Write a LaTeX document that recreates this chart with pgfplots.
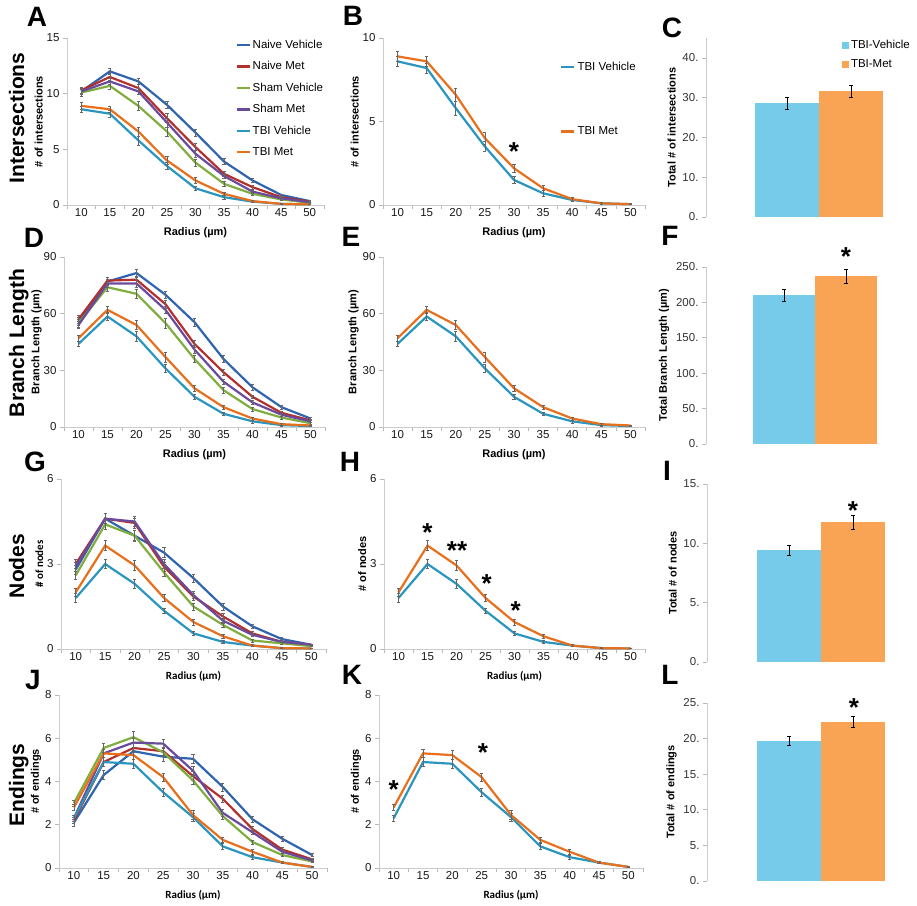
\documentclass[border=0pt]{standalone}
\usepackage{fontspec}
\setmainfont{Liberation Sans}
\newfontfamily\calib{Carlito}
\usepackage{pgfplots}
\usepackage{pgfplotstable}
\pgfplotsset{compat=1.18}

\definecolor{nv}{HTML}{2F64AE}
\definecolor{nm}{HTML}{B3302C}
\definecolor{sv}{HTML}{7FAE3E}
\definecolor{sm}{HTML}{6A4A9C}
\definecolor{tv}{HTML}{2A96BF}
\definecolor{tm}{HTML}{E86F1C}
\definecolor{barb}{HTML}{76CBEA}
\definecolor{baro}{HTML}{F9A455}

% intersections
\pgfplotstableread{
x nv nve nm nme sv sve sm sme tv tve tm tme
10 10.2 0.3 10.3 0.3 10.1 0.3 10.2 0.3 8.6 0.3 8.9 0.3
15 12.0 0.3 11.5 0.3 10.7 0.3 11.1 0.3 8.2 0.3 8.6 0.3
20 11.1 0.3 10.5 0.3 8.9 0.4 10.2 0.3 5.8 0.4 6.6 0.4
25 9.0 0.3 7.8 0.4 6.6 0.4 7.4 0.4 3.5 0.3 4.0 0.35
30 6.5 0.3 5.2 0.3 3.8 0.3 4.6 0.3 1.5 0.2 2.2 0.25
35 3.9 0.25 2.8 0.2 1.9 0.2 2.6 0.2 0.7 0.15 1.0 0.15
40 2.2 0.2 1.6 0.15 1.0 0.15 1.2 0.15 0.3 0.1 0.35 0.1
45 0.9 0.1 0.7 0.1 0.5 0.1 0.6 0.1 0.1 0.05 0.1 0.05
50 0.35 0.1 0.3 0.1 0.2 0.05 0.25 0.05 0.05 0.03 0.05 0.03
}\tabA
% branch length
\pgfplotstableread{
x nv nve nm nme sv sve sm sme tv tve tm tme
10 56 2 57 2 55 2 54 2 44 1.5 47 1.5
15 77 2 77.5 2 74 2 76 2 58.5 2 62 2
20 81.5 2 78 2 70.5 2.5 76 2 48 2.5 54 2.5
25 70 2 65 2 55 2.5 62 2 31 2 37 2.5
30 55.5 2 44 2 36 2 41 2 16 1.5 20.5 1.5
35 36 2 29 1.5 19.5 1.5 24 1.5 7 1 10.5 1
40 21 1.5 16 1 9.5 1 13 1 3 0.8 4.5 0.8
45 10.5 1 7.5 1 5 0.8 6.5 0.8 1 0.5 1.5 0.5
50 4.5 0.8 3.5 0.8 2 0.5 3 0.5 0.5 0.3 0.8 0.3
}\tabD
% nodes
\pgfplotstableread{
x nv nve nm nme sv sve sm sme tv tve tm tme
10 2.8 0.15 3.0 0.15 2.6 0.15 2.9 0.15 1.8 0.15 2.0 0.15
15 4.6 0.18 4.6 0.18 4.4 0.18 4.6 0.18 3.0 0.15 3.65 0.18
20 4.0 0.18 4.45 0.18 4.0 0.2 4.5 0.18 2.3 0.15 2.95 0.18
25 3.4 0.18 2.9 0.15 2.7 0.15 3.0 0.15 1.35 0.1 1.8 0.12
30 2.5 0.15 1.85 0.12 1.5 0.12 1.9 0.12 0.55 0.06 0.95 0.1
35 1.5 0.12 1.15 0.1 0.85 0.08 1.0 0.08 0.25 0.05 0.45 0.06
40 0.8 0.08 0.55 0.06 0.3 0.05 0.5 0.05 0.12 0.03 0.12 0.03
45 0.35 0.05 0.25 0.05 0.2 0.03 0.25 0.03 0.03 0.02 0.03 0.02
50 0.15 0.03 0.15 0.03 0.1 0.02 0.15 0.02 0.02 0.01 0.02 0.01
}\tabG
% endings
\pgfplotstableread{
x nv nve nm nme sv sve sm sme tv tve tm tme
10 2.1 0.15 2.2 0.15 3.0 0.15 2.3 0.15 2.3 0.15 2.8 0.15
15 4.3 0.2 4.9 0.2 5.55 0.2 5.3 0.2 4.9 0.2 5.3 0.2
20 5.4 0.2 5.55 0.2 6.05 0.25 5.8 0.2 4.82 0.2 5.22 0.2
25 5.15 0.2 5.4 0.2 5.35 0.2 5.75 0.2 3.5 0.2 4.2 0.2
30 5.05 0.2 4.25 0.2 4.05 0.2 4.5 0.2 2.35 0.2 2.45 0.2
35 3.75 0.18 3.2 0.15 2.4 0.15 2.55 0.15 1.0 0.12 1.3 0.1
40 2.25 0.15 1.8 0.12 1.2 0.1 1.65 0.1 0.5 0.1 0.75 0.1
45 1.35 0.1 0.85 0.1 0.6 0.08 0.75 0.08 0.25 0.05 0.25 0.05
50 0.6 0.08 0.4 0.06 0.3 0.05 0.35 0.05 0.05 0.02 0.05 0.02
}\tabJ

\pgfplotsset{
  linech/.style={
    scale only axis, clip=false, anchor=south west,
    xmin=7.5, xmax=52.5, ymin=0,
    axis x line*=bottom, axis y line*=left,
    axis line style={draw=gray!40, line width=0.9pt, -},
    tick align=outside,
    tick style={draw=gray!55, line width=0.7pt},
    major tick length=4pt,
    xtick={7.5,12.5,...,52.5}, xticklabels={},
    extra x ticks={10,15,...,50},
    extra x tick labels={10,15,20,25,30,35,40,45,50},
    extra x tick style={major tick length=0pt},
    ticklabel style={font=\fontsize{11.5}{11.5}\selectfont, text=black!90},
    /pgf/number format/assume math mode=true,
    label style={font=\bfseries\fontsize{11}{11}\selectfont},
    ylabel shift=-3pt,
    xlabel={Radius (µm)},
    /pgfplots/error bars/y dir=both,
    /pgfplots/error bars/y explicit,
    /pgfplots/error bars/error bar style={line width=0.6pt, black!60},
    /pgfplots/error bars/error mark options={rotate=90, mark size=1.6pt, line width=0.6pt, black!60},
    every axis plot/.append style={line width=2.2pt, mark=none},
    legend image code/.code={\draw[line width=2.2pt,#1] (0pt,0pt) -- (13pt,0pt);},
  },
  barch/.style={
    scale only axis, clip=false, anchor=south west,
    width=194pt, xmin=0, xmax=194, ymin=0,
    axis x line=none, axis y line*=left,
    axis line style={draw=gray!40, line width=0.9pt, -},
    tick align=outside,
    tick style={draw=gray!55, line width=0.7pt},
    major tick length=4pt,
    /pgf/number format/assume math mode=true,
    yticklabel={\pgfmathprintnumber[fixed,precision=0]{\tick}.},
    ticklabel style={font=\fontsize{11.5}{11.5}\selectfont, text=black!80},
    label style={font=\bfseries\fontsize{11}{11}\selectfont},
    /pgfplots/error bars/y dir=both,
    /pgfplots/error bars/y explicit,
    /pgfplots/error bars/error bar style={black, line width=0.6pt},
    /pgfplots/error bars/error mark options={rotate=90, mark size=1.8pt, black, line width=0.6pt},
  },
  bstyle/.style={ybar, bar width=64, bar shift=0pt, draw=none},
}

\newcommand{\sigstar}[1]{\node[inner sep=0pt, anchor=north, font=\bfseries\fontsize{26}{26}\selectfont] at (#1) {*};}

\begin{document}
\begin{tikzpicture}
\path[use as bounding box] (0pt,0pt) rectangle (917pt,905pt);

% ---------- A
\begin{axis}[linech, at={(67pt,700pt)}, width=257pt, height=167pt,
  ymax=15, ytick={0,5,10,15}, ylabel={\# of intersections},
  legend style={at={(0.655,1.0)}, anchor=north west, draw=none, fill=none,
    font=\fontsize{11.5}{11.5}\selectfont, row sep=7.6pt, inner sep=0pt},
  legend cell align=left]
\addplot[nv] table[x=x,y=nv,y error=nve]{\tabA};
\addplot[nm] table[x=x,y=nm,y error=nme]{\tabA};
\addplot[sv] table[x=x,y=sv,y error=sve]{\tabA};
\addplot[sm] table[x=x,y=sm,y error=sme]{\tabA};
\addplot[tv] table[x=x,y=tv,y error=tve]{\tabA};
\addplot[tm] table[x=x,y=tm,y error=tme]{\tabA};
\legend{Naive Vehicle,Naive Met,Sham Vehicle,Sham Met,TBI Vehicle,TBI Met}
\end{axis}

% ---------- B
\begin{axis}[linech, at={(383pt,700pt)}, width=262pt, height=167pt,
  ymax=10, ytick={0,5,10}, ylabel={\# of intersections},
  legend style={at={(0.676,0.87)}, anchor=north west, draw=none, fill=none,
    font=\fontsize{11.5}{11.5}\selectfont, row sep=51pt, inner sep=0pt},
  legend cell align=left]
\addplot[tv] table[x=x,y=tv,y error=tve]{\tabA};
\addplot[tm] table[x=x,y=tm,y error=tme]{\tabA};
\legend{TBI Vehicle,TBI Met}
\sigstar{axis cs:30,3.75}
\end{axis}

% ---------- C
\begin{axis}[barch, at={(706pt,688pt)}, height=179pt, ymax=45,
  ytick={0,10,20,30,40}, ylabel={Total \# of intersections},
  legend style={at={(0.70,1.0)}, anchor=north west, draw=none, fill=none,
    font=\fontsize{11.5}{11.5}\selectfont, row sep=5.5pt, inner sep=0pt},
  legend cell align=left]
\addplot[bstyle, fill=barb, legend image code/.code={\fill[barb] (0pt,-3.5pt) rectangle (7pt,3.5pt);}]
  coordinates {(81,28.6) +- (0,1.5)};
\addplot[bstyle, fill=baro, legend image code/.code={\fill[baro] (0pt,-3.5pt) rectangle (7pt,3.5pt);}]
  coordinates {(145,31.6) +- (0,1.4)};
\legend{TBI-Vehicle,TBI-Met}
\end{axis}

% ---------- D
\begin{axis}[linech, at={(64pt,478pt)}, width=261pt, height=170pt,
  ymax=90, ytick={0,30,60,90}, ylabel={Branch Length (µm)}, ylabel shift=-5pt]
\addplot[nv] table[x=x,y=nv,y error=nve]{\tabD};
\addplot[nm] table[x=x,y=nm,y error=nme]{\tabD};
\addplot[sv] table[x=x,y=sv,y error=sve]{\tabD};
\addplot[sm] table[x=x,y=sm,y error=sme]{\tabD};
\addplot[tv] table[x=x,y=tv,y error=tve]{\tabD};
\addplot[tm] table[x=x,y=tm,y error=tme]{\tabD};
\end{axis}

% ---------- E
\begin{axis}[linech, at={(383pt,478pt)}, width=262pt, height=170pt,
  ymax=90, ytick={0,30,60,90}, ylabel={Branch Length (µm)}]
\addplot[tv] table[x=x,y=tv,y error=tve]{\tabD};
\addplot[tm] table[x=x,y=tm,y error=tme]{\tabD};
\end{axis}

% ---------- F
\begin{axis}[barch, at={(706pt,461pt)}, height=177pt, ymax=250,
  ytick={0,50,100,150,200,250}, ylabel={Total Branch Length (µm)}]
\addplot[bstyle, fill=barb, bar width=62] coordinates {(78,210) +- (0,9)};
\addplot[bstyle, fill=baro, bar width=62] coordinates {(140,237) +- (0,10)};
\sigstar{axis cs:140,277}
\end{axis}

% ---------- G
\begin{axis}[linech, at={(61pt,256pt)}, width=265pt, height=170pt,
  ymax=6, ytick={0,3,6}, ylabel={\calib\bfseries \# of nodes},
  xlabel={\calib\bfseries Radius (µm)}]
\addplot[nv] table[x=x,y=nv,y error=nve]{\tabG};
\addplot[nm] table[x=x,y=nm,y error=nme]{\tabG};
\addplot[sv] table[x=x,y=sv,y error=sve]{\tabG};
\addplot[sm] table[x=x,y=sm,y error=sme]{\tabG};
\addplot[tv] table[x=x,y=tv,y error=tve]{\tabG};
\addplot[tm] table[x=x,y=tm,y error=tme]{\tabG};
\end{axis}

% ---------- H
\begin{axis}[linech, at={(384pt,256pt)}, width=261pt, height=170pt,
  ymax=6, ytick={0,3,6}, ylabel={\# of nodes},
  xlabel={\calib\bfseries Radius (µm)}]
\addplot[tv] table[x=x,y=tv,y error=tve]{\tabG};
\addplot[tm] table[x=x,y=tm,y error=tme]{\tabG};
\sigstar{axis cs:15,4.45}
\node[inner sep=0pt, anchor=north, font=\bfseries\fontsize{26}{26}\selectfont] at (axis cs:20.1,3.78) {**};
\sigstar{axis cs:25.2,2.65}
\sigstar{axis cs:30.2,1.69}
\end{axis}

% ---------- I
\begin{axis}[barch, at={(707pt,243pt)}, height=178pt, ymax=15,
  ytick={0,5,10,15}, ylabel={Total \# of nodes}]
\addplot[bstyle, fill=barb] coordinates {(82,9.4) +- (0,0.45)};
\addplot[bstyle, fill=baro] coordinates {(146,11.8) +- (0,0.6)};
\sigstar{axis cs:146,13.5}
\end{axis}

% ---------- J
\begin{axis}[linech, at={(59pt,37pt)}, width=268pt, height=173pt,
  ymax=8, ytick={0,2,4,6,8}, ylabel={\# of endings},
  xlabel={\calib\bfseries Radius (µm)}]
\addplot[nv] table[x=x,y=nv,y error=nve]{\tabJ};
\addplot[nm] table[x=x,y=nm,y error=nme]{\tabJ};
\addplot[sv] table[x=x,y=sv,y error=sve]{\tabJ};
\addplot[sm] table[x=x,y=sm,y error=sme]{\tabJ};
\addplot[tv] table[x=x,y=tv,y error=tve]{\tabJ};
\addplot[tm] table[x=x,y=tm,y error=tme]{\tabJ};
\end{axis}

% ---------- K
\begin{axis}[linech, at={(379pt,37pt)}, width=264pt, height=173pt,
  ymax=8, ytick={0,2,4,6,8}, ylabel={\# of endings},
  xlabel={\calib\bfseries Radius (µm)}]
\addplot[tv] table[x=x,y=tv,y error=tve]{\tabJ};
\addplot[tm] table[x=x,y=tm,y error=tme]{\tabJ};
\sigstar{axis cs:10,4.07}
\sigstar{axis cs:25.2,5.78}
\end{axis}

% ---------- L
\begin{axis}[barch, at={(707pt,24pt)}, height=178pt, ymax=25,
  ytick={0,5,10,15,20,25}, ylabel={Total \# of endings}]
\addplot[bstyle, fill=barb] coordinates {(82,19.7) +- (0,0.6)};
\addplot[bstyle, fill=baro] coordinates {(146,22.4) +- (0,0.8)};
\sigstar{axis cs:147,25.7}
\end{axis}

% row labels
\begin{scope}[every node/.style={rotate=90, anchor=base, inner sep=0pt, font=\bfseries\fontsize{21}{21}\selectfont}]
\node at (24pt,787pt) {Intersections};
\node at (24pt,562pt) {Branch Length};
\node at (24pt,339pt) {Nodes};
\node at (24pt,120pt) {Endings};
\end{scope}

% panel letters
\begin{scope}[every node/.style={inner sep=0pt, font=\bfseries\fontsize{28}{28}\selectfont}]
\node at (37pt,888pt) {A};
\node at (353pt,889pt) {B};
\node at (672pt,877pt) {C};
\node at (34pt,667pt) {D};
\node at (351pt,668pt) {E};
\node at (670pt,669pt) {F};
\node at (35pt,443pt) {G};
\node at (350pt,443pt) {H};
\node at (667pt,434pt) {I};
\node at (33pt,225pt) {J};
\node at (352pt,230pt) {K};
\node at (670pt,230pt) {L};
\end{scope}
\end{tikzpicture}
\end{document}
